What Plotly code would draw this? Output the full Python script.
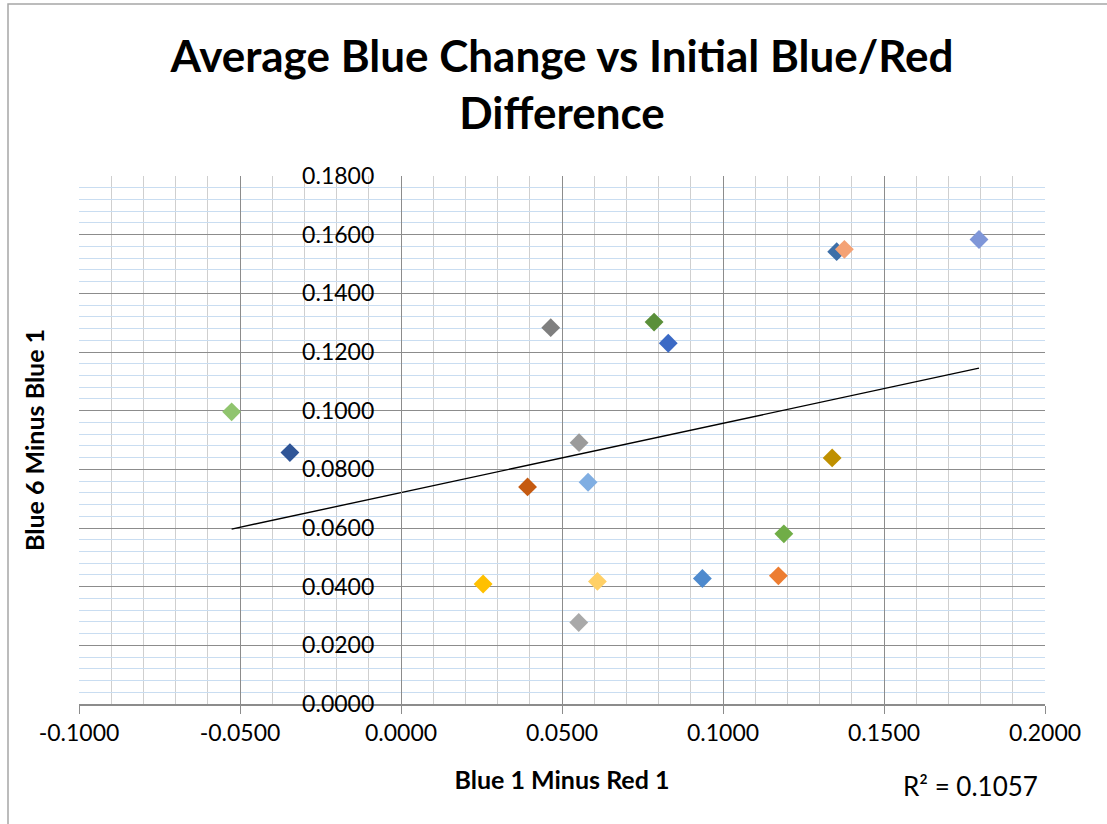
import numpy as np
import plotly.graph_objects as go

# Each sample: initial blue-minus-red difference vs. change in blue (6 minus 1)
blue1_minus_red1 = [-0.0526, -0.0345, 0.0465, 0.0786, 0.0830, 0.0553, 0.0393, 0.0581, 0.0255,
                    0.0610, 0.0552, 0.0936, 0.1172, 0.1189, 0.1339, 0.1353, 0.1377, 0.1795]
blue6_minus_blue1 = [0.0996, 0.0857, 0.1283, 0.1302, 0.1230, 0.0891, 0.0740, 0.0756, 0.0409,
                     0.0418, 0.0278, 0.0428, 0.0437, 0.0580, 0.0839, 0.1542, 0.1550, 0.15835]
point_colors = ["#90c46e", "#2f5597", "#7f7f7f", "#5a8f3a", "#3b6ac5", "#9b9b9b", "#c55a11",
                "#80aee2", "#ffc000", "#ffd066", "#a9a9a9", "#4e8ace", "#ed7d31", "#70ad47",
                "#bf9000", "#3d6fa8", "#f4a275", "#7f96d8"]

x_tick_vals = [-0.10, -0.05, 0.00, 0.05, 0.10, 0.15, 0.20]
x_tick_labels = ["-0.1000", "-0.0500", "0.0000", "0.0500", "0.1000", "0.1500", "0.2000"]
y_tick_vals = [0.00, 0.02, 0.04, 0.06, 0.08, 0.10, 0.12, 0.14, 0.16, 0.18]
y_tick_labels = ["0.0000", "0.0200", "0.0400", "0.0600", "0.0800", "0.1000",
                 "0.1200", "0.1400", "0.1600", "0.1800"]

# Linear trendline and coefficient of determination
x = np.array(blue1_minus_red1)
y = np.array(blue6_minus_blue1)
slope, intercept = np.polyfit(x, y, 1)
fit = slope * x + intercept
r2 = 1 - np.sum((y - fit) ** 2) / np.sum((y - y.mean()) ** 2)
trend_x = [x.min(), x.max()]
trend_y = [slope * v + intercept for v in trend_x]

W, H = 1107, 824
L, R, T, B = 79, 1045, 176, 704  # plot area in pixels


def px_x(px):
    return (px - L) / (R - L)


def px_y(py):
    return (B - py) / (B - T)


FONT = "Lato, 'Open Sans', sans-serif"
MAJOR = "#8c8c8c"

fig = go.Figure()
fig.add_trace(go.Scatter(
    x=trend_x, y=trend_y, mode="lines",
    line=dict(color="black", width=1.4), hoverinfo="skip", showlegend=False,
))
fig.add_trace(go.Scatter(
    x=blue1_minus_red1, y=blue6_minus_blue1, mode="markers",
    marker=dict(symbol="diamond", size=14.5, color=point_colors, line=dict(width=0)),
    showlegend=False,
))

fig.update_layout(
    width=W, height=H,
    margin=dict(l=L, r=W - R, t=T, b=H - B),
    paper_bgcolor="white", plot_bgcolor="white",
    font=dict(family=FONT, color="black"),
    title=dict(
        text="<b>Average Blue Change vs Initial Blue/Red<br>Difference</b>",
        x=0.5, xanchor="center", xref="paper",
        y=1 - 72 / H, yanchor="middle", yref="container",
        font=dict(family=FONT, size=44, color="black"),
    ),
    xaxis=dict(
        range=[-0.1, 0.2], domain=[0, 1], anchor="y",
        tickvals=x_tick_vals, ticktext=x_tick_labels,
        tickfont=dict(family=FONT, size=23, color="black"),
        ticks="outside", ticklen=8, tickwidth=1.3, tickcolor=MAJOR,
        showline=True, linecolor=MAJOR, linewidth=1.5,
        showgrid=True, gridcolor=MAJOR, gridwidth=1.2,
        minor=dict(dtick=0.01, showgrid=True, gridcolor="#cfcfcf", gridwidth=1, ticks=""),
        zeroline=False,
        title=dict(text="<b>Blue 1 Minus Red 1</b>", font=dict(family=FONT, size=25, color="black"),
                   standoff=26),
    ),
    yaxis=dict(
        range=[0, 0.18], domain=[0, 1], anchor="free", position=px_x(401),
        tickvals=y_tick_vals, ticktext=y_tick_labels,
        tickfont=dict(family=FONT, size=23, color="black"),
        ticks="", ticklabelstandoff=22,
        showline=True, linecolor=MAJOR, linewidth=1.3,
        showgrid=True, gridcolor=MAJOR, gridwidth=1.2,
        minor=dict(dtick=0.004, showgrid=True, gridcolor="#c9ddf1", gridwidth=1, ticks=""),
        zeroline=False,
    ),
    shapes=[dict(
        type="rect", xref="paper", yref="paper",
        x0=px_x(8), x1=px_x(W + 5), y0=px_y(H + 5), y1=px_y(4),
        line=dict(color="#a6a6a6", width=1.5), fillcolor="rgba(0,0,0,0)", layer="below",
    )],
    annotations=[
        dict(text="<b>Blue 6 Minus Blue 1</b>", textangle=-90,
             xref="paper", yref="paper", x=px_x(34), y=px_y(440),
             xanchor="center", yanchor="middle", showarrow=False,
             font=dict(family=FONT, size=25, color="black")),
        dict(text=f"R² = {r2:.4f}",
             xref="paper", yref="paper", x=px_x(970), y=px_y(786),
             xanchor="center", yanchor="middle", showarrow=False,
             font=dict(family=FONT, size=26, color="black")),
    ],
)

fig.write_html("out.html")
